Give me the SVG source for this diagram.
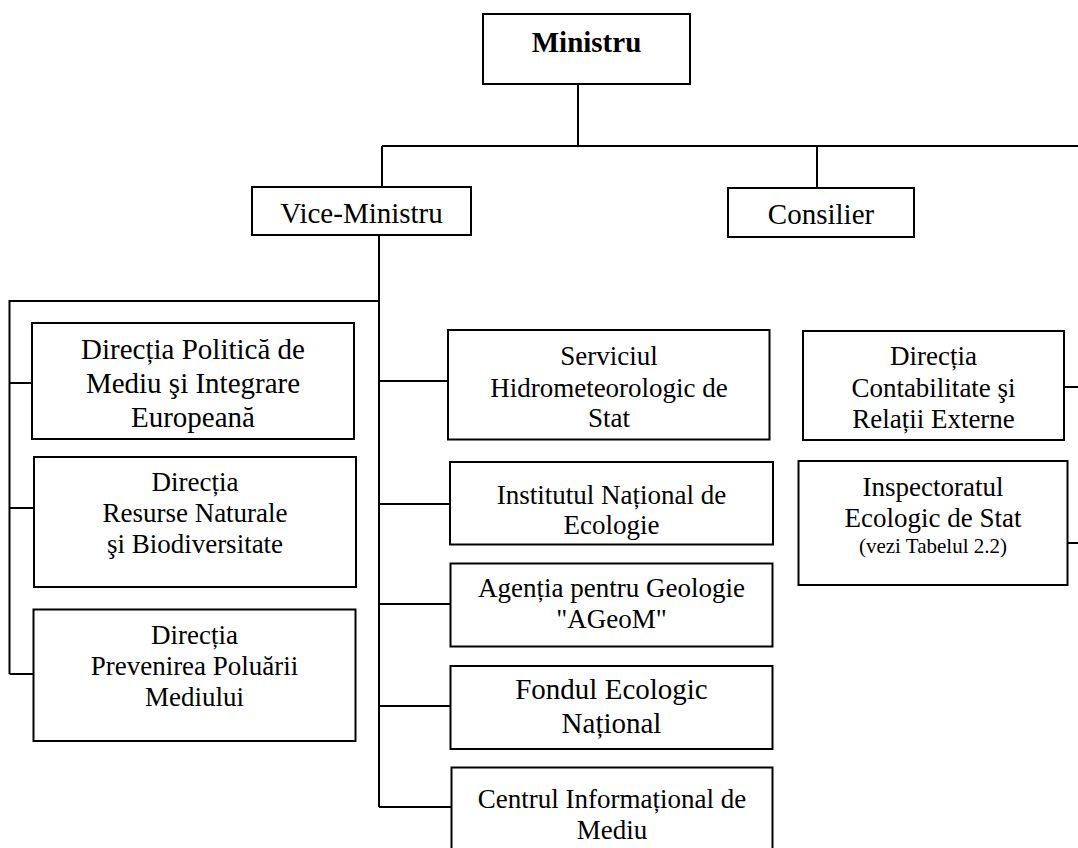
<svg xmlns="http://www.w3.org/2000/svg" width="1078" height="848" viewBox="0 0 1078 848">
<style>
.box{fill:#fff;stroke:#000;stroke-width:2}
.ln{fill:none;stroke:#000;stroke-width:2}
text{fill:#000;text-anchor:middle}
.l{font-size:29px}
.m{font-size:27px}
.s{font-size:21px}
.b{font-weight:bold}
</style>
<rect width="1078" height="848" fill="#fff"/>
<g id="connectors">
<path class="ln" d="M578,84V146M382,146H1080M382,146V187M817,146V188"/>
<path class="ln" d="M379,235V807M379,301H9.5V674M9.5,383H32M9.5,508H34M9.5,674H33"/>
<path class="ln" d="M379,381H448M379,504H450M379,604H450M379,706H450M379,807H451"/>
<path class="ln" d="M1064,387H1080M1067,543H1080"/>
</g>
<g font-family="'Liberation Serif', Tinos, 'DejaVu Serif', serif">
<g id="ministru">
<rect class="box" x="483" y="14" width="207" height="70"/>
<text class="l b" x="586.5" y="52">Ministru</text>
</g>
<g id="vice-ministru">
<rect class="box" x="252" y="187" width="219" height="48"/>
<text class="l" x="361.5" y="223">Vice-Ministru</text>
</g>
<g id="consilier">
<rect class="box" x="728" y="188" width="186" height="49"/>
<text class="l" x="821" y="224">Consilier</text>
</g>
<g id="dir-politica">
<rect class="box" x="32" y="323" width="322" height="116"/>
<text class="l" x="193" y="359">Direcția Politică de</text>
<text class="l" x="193" y="392.5">Mediu şi Integrare</text>
<text class="l" x="193" y="426.5">Europeană</text>
</g>
<g id="dir-resurse">
<rect class="box" x="34" y="457" width="322" height="130"/>
<text class="m" x="195" y="490.5">Direcția</text>
<text class="m" x="195" y="522">Resurse Naturale</text>
<text class="m" x="195" y="553">şi Biodiversitate</text>
</g>
<g id="dir-prevenirea">
<rect class="box" x="33.5" y="609.5" width="322" height="131.5"/>
<text class="m" x="194.5" y="643.5">Direcția</text>
<text class="m" x="194.5" y="674.5">Prevenirea Poluării</text>
<text class="m" x="194.5" y="705.5">Mediului</text>
</g>
<g id="serviciul">
<rect class="box" x="448" y="330" width="321.5" height="109.5"/>
<text class="m" x="609" y="364.5">Serviciul</text>
<text class="m" x="609" y="397">Hidrometeorologic de</text>
<text class="m" x="609" y="426.5">Stat</text>
</g>
<g id="institutul">
<rect class="box" x="450" y="462" width="323" height="82.5"/>
<text class="m" x="611.5" y="503.5">Institutul Național de</text>
<text class="m" x="611.5" y="533.5">Ecologie</text>
</g>
<g id="agentia">
<rect class="box" x="450.5" y="563.5" width="322" height="83"/>
<text class="m" x="611.5" y="596.5">Agenția pentru Geologie</text>
<text class="m" x="611.5" y="628">"AGeoM"</text>
</g>
<g id="fondul">
<rect class="box" x="450.5" y="666" width="322" height="83"/>
<text class="l" x="611.5" y="698.5">Fondul Ecologic</text>
<text class="l" x="611.5" y="733">Național</text>
</g>
<g id="centrul">
<rect class="box" x="451.5" y="767.5" width="321" height="100"/>
<text class="m" x="612" y="808">Centrul Informațional de</text>
<text class="m" x="612" y="839">Mediu</text>
</g>
<g id="dir-contabilitate">
<rect class="box" x="803" y="331" width="261" height="109"/>
<text class="m" x="933.5" y="365">Direcția</text>
<text class="m" x="933.5" y="396.5">Contabilitate şi</text>
<text class="m" x="933.5" y="427.5">Relații Externe</text>
</g>
<g id="inspectoratul">
<rect class="box" x="798.5" y="461" width="269" height="124"/>
<text class="m" x="933" y="496">Inspectoratul</text>
<text class="m" x="933" y="526.5">Ecologic de Stat</text>
<text class="s" x="933" y="552.5">(vezi Tabelul 2.2)</text>
</g>
</g>
</svg>
